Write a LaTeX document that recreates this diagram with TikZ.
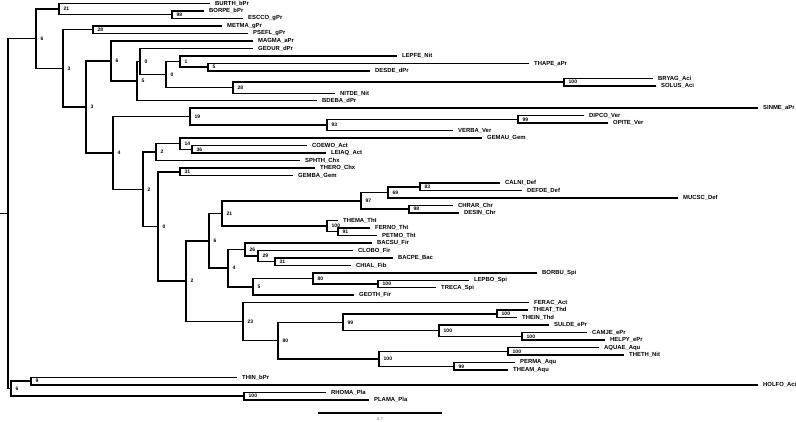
\documentclass[tikz,border=0pt]{standalone}
\usepackage{fontspec}
\setmainfont{Liberation Sans}
\newcommand\Y[1]{3.5+7.48*#1}
\tikzset{
  br/.style={line width=1.5pt, line join=miter},
  leaf/.style={anchor=west, inner xsep=5pt, inner ysep=0.5pt, font=\fontsize{5.9}{6}\selectfont\bfseries},
  bs/.style={anchor=west, inner sep=0pt, font=\fontsize{5}{5}\selectfont\bfseries},
}
\begin{document}
\begin{tikzpicture}[x=1pt,y=-1pt]
\useasboundingbox (0,0) rectangle (796,422);
% leaves
\node[leaf] (BURTH) at (210,{\Y{0}}) {BURTH\_bPr};
\node[leaf] (BORPE) at (204,{\Y{1}}) {BORPE\_bPr};
\node[leaf] (ESCCO) at (243,{\Y{2}}) {ESCCO\_gPr};
\node[leaf] (METMA) at (222,{\Y{3}}) {METMA\_gPr};
\node[leaf] (PSEFL) at (248,{\Y{4}}) {PSEFL\_gPr};
\node[leaf] (MAGMA) at (253,{\Y{5}}) {MAGMA\_aPr};
\node[leaf] (GEOUR) at (253,{\Y{6}}) {GEOUR\_dPr};
\node[leaf] (LEPFE) at (397,{\Y{7}}) {LEPFE\_Nit};
\node[leaf] (THAPE) at (529,{\Y{8}}) {THAPE\_aPr};
\node[leaf] (DESDE) at (370,{\Y{9}}) {DESDE\_dPr};
\node[leaf] (BRYAG) at (653,{\Y{10}}) {BRYAG\_Aci};
\node[leaf] (SOLUS) at (656,{\Y{11}}) {SOLUS\_Aci};
\node[leaf] (NITDE) at (335,{\Y{12}}) {NITDE\_Nit};
\node[leaf] (BDEBA) at (317,{\Y{13}}) {BDEBA\_dPr};
\node[leaf] (SINME) at (758,{\Y{14}}) {SINME\_aPr};
\node[leaf] (DIPCO) at (584,{\Y{15}}) {DIPCO\_Ver};
\node[leaf] (OPITE) at (608,{\Y{16}}) {OPITE\_Ver};
\node[leaf] (VERBA) at (453,{\Y{17}}) {VERBA\_Ver};
\node[leaf] (GEMAU) at (482,{\Y{18}}) {GEMAU\_Gem};
\node[leaf] (COEWO) at (307,{\Y{19}}) {COEWO\_Act};
\node[leaf] (LEIAQ) at (326,{\Y{20}}) {LEIAQ\_Act};
\node[leaf] (SPHTH) at (300,{\Y{21}}) {SPHTH\_Chx};
\node[leaf] (THERO) at (315,{\Y{22}}) {THERO\_Chx};
\node[leaf] (GEMBA) at (293,{\Y{23}}) {GEMBA\_Gem};
\node[leaf] (CALNI) at (500,{\Y{24}}) {CALNI\_Def};
\node[leaf] (DEFDE) at (522,{\Y{25}}) {DEFDE\_Def};
\node[leaf] (MUCSC) at (678,{\Y{26}}) {MUCSC\_Def};
\node[leaf] (CHRAR) at (453,{\Y{27}}) {CHRAR\_Chr};
\node[leaf] (DESIN) at (459,{\Y{28}}) {DESIN\_Chr};
\node[leaf] (THEMA) at (338,{\Y{29}}) {THEMA\_Tht};
\node[leaf] (FERNO) at (370,{\Y{30}}) {FERNO\_Tht};
\node[leaf] (PETMO) at (377,{\Y{31}}) {PETMO\_Tht};
\node[leaf] (BACSU) at (372,{\Y{32}}) {BACSU\_Fir};
\node[leaf] (CLOBO) at (353,{\Y{33}}) {CLOBO\_Fir};
\node[leaf] (BACPE) at (393,{\Y{34}}) {BACPE\_Bac};
\node[leaf] (CHIAL) at (351,{\Y{35}}) {CHIAL\_Fib};
\node[leaf] (BORBU) at (537,{\Y{36}}) {BORBU\_Spi};
\node[leaf] (LEPBO) at (469,{\Y{37}}) {LEPBO\_Spi};
\node[leaf] (TRECA) at (436,{\Y{38}}) {TRECA\_Spi};
\node[leaf] (GEOTH) at (354,{\Y{39}}) {GEOTH\_Fir};
\node[leaf] (FERAC) at (529,{\Y{40}}) {FERAC\_Act};
\node[leaf] (THEAT) at (528,{\Y{41}}) {THEAT\_Thd};
\node[leaf] (THEIN) at (517,{\Y{42}}) {THEIN\_Thd};
\node[leaf] (SULDE) at (549,{\Y{43}}) {SULDE\_ePr};
\node[leaf] (CAMJE) at (587,{\Y{44}}) {CAMJE\_ePr};
\node[leaf] (HELPY) at (605,{\Y{45}}) {HELPY\_ePr};
\node[leaf] (AQUAE) at (599,{\Y{46}}) {AQUAE\_Aqu};
\node[leaf] (THETH) at (624,{\Y{47}}) {THETH\_Nit};
\node[leaf] (PERMA) at (515,{\Y{48}}) {PERMA\_Aqu};
\node[leaf] (THEAM) at (508,{\Y{49}}) {THEAM\_Aqu};
\node[leaf] (THIN)  at (237,{\Y{50}}) {THIN\_bPr};
\node[leaf] (HOLFO) at (758,{\Y{51}}) {HOLFO\_Aci};
\node[leaf] (RHOMA) at (326,{\Y{52}}) {RHOMA\_Pla};
\node[leaf] (PLAMA) at (369,{\Y{53}}) {PLAMA\_Pla};
% internal nodes
\coordinate (n98a) at (172,{\Y{1.5}});
\coordinate (n21a) at (59,{\Y{0.75}});
\coordinate (n28a) at (93,{\Y{3.5}});
\coordinate (n5b) at (208,{\Y{8.5}});
\coordinate (n1) at (180,{\Y{7.75}});
\coordinate (n100a) at (564,{\Y{10.5}});
\coordinate (n28b) at (233,{\Y{11.25}});
\coordinate (n0b) at (166,{\Y{9.5}});
\coordinate (n0a) at (140,{\Y{7.75}});
\coordinate (n5a) at (137,{\Y{10.375}});
\coordinate (n6b) at (111,{\Y{7.6875}});
\coordinate (n99a) at (518,{\Y{15.5}});
\coordinate (n93) at (327,{\Y{16.25}});
\coordinate (n19) at (190,{\Y{15.125}});
\coordinate (n36) at (192,{\Y{19.5}});
\coordinate (n14) at (180,{\Y{18.75}});
\coordinate (n2a) at (156,{\Y{19.875}});
\coordinate (n31a) at (180,{\Y{22.5}});
\coordinate (n83) at (420,{\Y{24.5}});
\coordinate (n69) at (388,{\Y{25.25}});
\coordinate (n98b) at (409,{\Y{27.5}});
\coordinate (n97) at (361,{\Y{26.375}});
\coordinate (n91) at (338,{\Y{30.5}});
\coordinate (n100b) at (327,{\Y{29.75}});
\coordinate (n21b) at (222,{\Y{28.0625}});
\coordinate (n31b) at (275,{\Y{34.5}});
\coordinate (n29) at (258,{\Y{33.75}});
\coordinate (n26) at (245,{\Y{32.875}});
\coordinate (n100c) at (378,{\Y{37.5}});
\coordinate (n80a) at (313,{\Y{36.75}});
\coordinate (n5c) at (253,{\Y{37.875}});
\coordinate (n4b) at (228,{\Y{35.375}});
\coordinate (n6c) at (209,{\Y{31.71875}});
\coordinate (n100d) at (497,{\Y{41.5}});
\coordinate (n100f) at (522,{\Y{44.5}});
\coordinate (n100e) at (439,{\Y{43.75}});
\coordinate (n99b) at (343,{\Y{42.625}});
\coordinate (n100h) at (508,{\Y{46.5}});
\coordinate (n99c) at (454,{\Y{48.5}});
\coordinate (n100g) at (379,{\Y{47.5}});
\coordinate (n80b) at (278,{\Y{45.0625}});
\coordinate (n23) at (243,{\Y{42.53125}});
\coordinate (n2c) at (186,{\Y{37.125}});
\coordinate (n0c) at (158,{\Y{29.8125}});
\coordinate (n2b) at (143,{\Y{24.84375}});
\coordinate (n4a) at (113,{\Y{19.984375}});
\coordinate (n3b) at (86,{\Y{13.8359375}});
\coordinate (n3a) at (63,{\Y{8.66796875}});
\coordinate (n6a) at (36,{\Y{4.708984375}});
\coordinate (n9) at (31,{\Y{50.5}});
\coordinate (n100i) at (244,{\Y{52.5}});
\coordinate (n6d) at (11,{\Y{51.5}});
\coordinate (root) at (8,{\Y{28.1044921875}});
\coordinate (stub) at (0,{\Y{28.1044921875}});
% branches
\draw[br] (BORPE) -| (n98a) |- (ESCCO);
\draw[br] (BURTH) -| (n21a) |- (n98a);
\draw[br] (METMA) -| (n28a) |- (PSEFL);
\draw[br] (THAPE) -| (n5b) |- (DESDE);
\draw[br] (LEPFE) -| (n1) |- (n5b);
\draw[br] (BRYAG) -| (n100a) |- (SOLUS);
\draw[br] (n100a) -| (n28b) |- (NITDE);
\draw[br] (n1) -| (n0b) |- (n28b);
\draw[br] (GEOUR) -| (n0a) |- (n0b);
\draw[br] (n0a) -| (n5a) |- (BDEBA);
\draw[br] (MAGMA) -| (n6b) |- (n5a);
\draw[br] (DIPCO) -| (n99a) |- (OPITE);
\draw[br] (n99a) -| (n93) |- (VERBA);
\draw[br] (SINME) -| (n19) |- (n93);
\draw[br] (COEWO) -| (n36) |- (LEIAQ);
\draw[br] (GEMAU) -| (n14) |- (n36);
\draw[br] (n14) -| (n2a) |- (SPHTH);
\draw[br] (THERO) -| (n31a) |- (GEMBA);
\draw[br] (CALNI) -| (n83) |- (DEFDE);
\draw[br] (n83) -| (n69) |- (MUCSC);
\draw[br] (CHRAR) -| (n98b) |- (DESIN);
\draw[br] (n69) -| (n97) |- (n98b);
\draw[br] (FERNO) -| (n91) |- (PETMO);
\draw[br] (THEMA) -| (n100b) |- (n91);
\draw[br] (n97) -| (n21b) |- (n100b);
\draw[br] (BACPE) -| (n31b) |- (CHIAL);
\draw[br] (CLOBO) -| (n29) |- (n31b);
\draw[br] (BACSU) -| (n26) |- (n29);
\draw[br] (LEPBO) -| (n100c) |- (TRECA);
\draw[br] (BORBU) -| (n80a) |- (n100c);
\draw[br] (n80a) -| (n5c) |- (GEOTH);
\draw[br] (n26) -| (n4b) |- (n5c);
\draw[br] (n21b) -| (n6c) |- (n4b);
\draw[br] (THEAT) -| (n100d) |- (THEIN);
\draw[br] (CAMJE) -| (n100f) |- (HELPY);
\draw[br] (SULDE) -| (n100e) |- (n100f);
\draw[br] (n100d) -| (n99b) |- (n100e);
\draw[br] (AQUAE) -| (n100h) |- (THETH);
\draw[br] (PERMA) -| (n99c) |- (THEAM);
\draw[br] (n100h) -| (n100g) |- (n99c);
\draw[br] (n99b) -| (n80b) |- (n100g);
\draw[br] (FERAC) -| (n23) |- (n80b);
\draw[br] (n6c) -| (n2c) |- (n23);
\draw[br] (n31a) -| (n0c) |- (n2c);
\draw[br] (n2a) -| (n2b) |- (n0c);
\draw[br] (n19) -| (n4a) |- (n2b);
\draw[br] (n6b) -| (n3b) |- (n4a);
\draw[br] (n28a) -| (n3a) |- (n3b);
\draw[br] (n21a) -| (n6a) |- (n3a);
\draw[br] (THIN) -| (n9) |- (HOLFO);
\draw[br] (RHOMA) -| (n100i) |- (PLAMA);
\draw[br] (n9) -| (n6d) |- (n100i);
\draw[br] (n6a) -| (root) |- (n6d);
\draw[br] (stub) -- (root);
% support values
\foreach \n/\t in {n98a/98,n21a/21,n28a/28,n5b/5,n1/1,n100a/100,n28b/28,n0b/0,n0a/0,n5a/5,n6b/6,
  n99a/99,n93/93,n19/19,n36/36,n14/14,n2a/2,n31a/31,n83/83,n69/69,n98b/98,n97/97,n91/91,n100b/100,
  n21b/21,n31b/31,n29/29,n26/26,n100c/100,n80a/80,n5c/5,n4b/4,n6c/6,n100d/100,n100f/100,n100e/100,
  n99b/99,n100h/100,n99c/99,n100g/100,n80b/80,n23/23,n2c/2,n0c/0,n2b/2,n4a/4,n3b/3,n3a/3,n6a/6,
  n9/9,n100i/100,n6d/6}
  \node[bs] (b\n) at ([xshift=4.5pt]\n) {\t};
% scale bar
\coordinate (sbL) at (318,413);
\coordinate (sbR) at (442,413);
\draw[br] (sbL) -- (sbR);
\node[inner sep=0pt, font=\fontsize{4}{4}\selectfont, text=black!65] (sbT) at (380,419.5) {0.7};
\end{tikzpicture}
\end{document}
